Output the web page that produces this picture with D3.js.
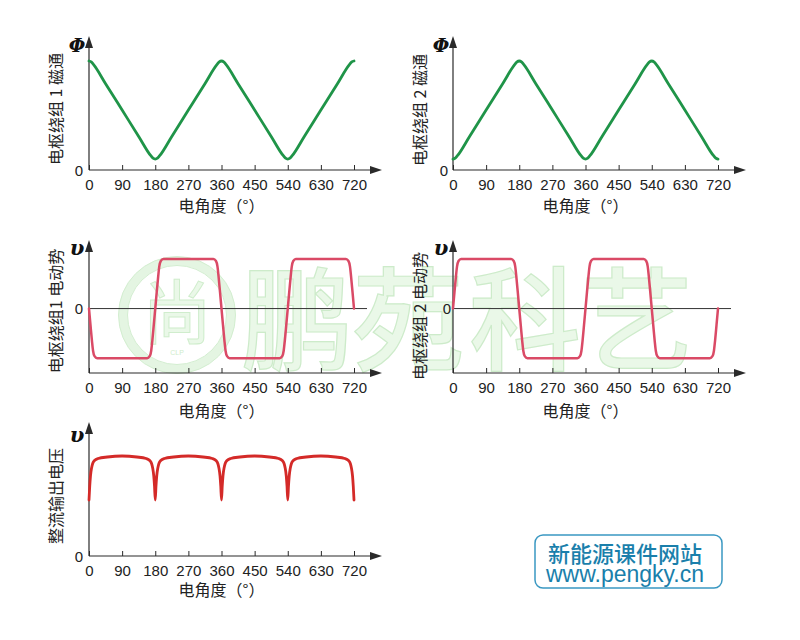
<!DOCTYPE html>
<html>
<head>
<meta charset="utf-8">
<script src="https://cdn.jsdelivr.net/npm/d3@7"></script>
<style>
  html, body { margin: 0; padding: 0; background: #fff; }
  svg { display: block; }
</style>
</head>
<body>
<svg id="chart" width="800" height="640"></svg>
<script>
// ---------------- data ----------------
const tickValues = [0, 90, 180, 270, 360, 450, 540, 630, 720];
const tickLabels = ["0", "90", "180", "270", "360", "450", "540", "630", "720"];
const xTitle = "电角度（°）";

// armature winding 1 flux
const flux1Angle = [0, 6, 12, 45, 90, 135, 168, 174, 180, 186, 192, 225, 270, 315, 348, 354, 360,
  366, 372, 405, 450, 495, 528, 534, 540, 546, 552, 585, 630, 675, 708, 714, 720];
const flux1Value = [1.0, 0.992, 0.969, 0.792, 0.550, 0.308, 0.131, 0.108, 0.10, 0.108, 0.131, 0.308, 0.550, 0.792, 0.969, 0.992, 1.0,
  0.992, 0.969, 0.792, 0.550, 0.308, 0.131, 0.108, 0.10, 0.108, 0.131, 0.308, 0.550, 0.792, 0.969, 0.992, 1.0];
// armature winding 2 flux
const flux2Angle = [0, 6, 12, 45, 90, 135, 168, 174, 180, 186, 192, 225, 270, 315, 348, 354, 360,
  366, 372, 405, 450, 495, 528, 534, 540, 546, 552, 585, 630, 675, 708, 714, 720];
const flux2Value = [0.10, 0.108, 0.131, 0.308, 0.550, 0.792, 0.969, 0.992, 1.0, 0.992, 0.969, 0.792, 0.550, 0.308, 0.131, 0.108, 0.10,
  0.108, 0.131, 0.308, 0.550, 0.792, 0.969, 0.992, 1.0, 0.992, 0.969, 0.792, 0.550, 0.308, 0.131, 0.108, 0.10];

// armature winding 1 EMF
const emf1Angle = [0, 4, 8, 11, 15, 22, 158, 165, 169, 172, 176, 180, 184, 188, 191, 195, 202,
  338, 345, 349, 352, 356, 360, 364, 368, 371, 375, 382, 518, 525, 529, 532, 536, 540,
  544, 548, 551, 555, 562, 698, 705, 709, 712, 716, 720];
const emf1Value = [0, -0.33, -0.65, -0.85, -0.96, -1, -1, -0.96, -0.85, -0.65, -0.33, 0, 0.33, 0.65, 0.85, 0.96, 1,
  1, 0.96, 0.85, 0.65, 0.33, 0, -0.33, -0.65, -0.85, -0.96, -1, -1, -0.96, -0.85, -0.65, -0.33, 0,
  0.33, 0.65, 0.85, 0.96, 1, 1, 0.96, 0.85, 0.65, 0.33, 0];
// armature winding 2 EMF
const emf2Angle = [0, 4, 8, 11, 15, 22, 158, 165, 169, 172, 176, 180, 184, 188, 191, 195, 202,
  338, 345, 349, 352, 356, 360, 364, 368, 371, 375, 382, 518, 525, 529, 532, 536, 540,
  544, 548, 551, 555, 562, 698, 705, 709, 712, 716, 720];
const emf2Value = [0, 0.33, 0.65, 0.85, 0.96, 1, 1, 0.96, 0.85, 0.65, 0.33, 0, -0.33, -0.65, -0.85, -0.96, -1,
  -1, -0.96, -0.85, -0.65, -0.33, 0, 0.33, 0.65, 0.85, 0.96, 1, 1, 0.96, 0.85, 0.65, 0.33, 0,
  -0.33, -0.65, -0.85, -0.96, -1, -1, -0.96, -0.85, -0.65, -0.33, 0];

// rectified output voltage
const rectAngle = [0, 2, 4, 7, 10, 15, 25, 50, 90, 130, 155, 165, 170, 173, 176, 178,
  180, 182, 184, 187, 190, 195, 205, 230, 270, 310, 335, 345, 350, 353, 356, 358,
  360, 362, 364, 367, 370, 375, 385, 410, 450, 490, 515, 525, 530, 533, 536, 538,
  540, 542, 544, 547, 550, 555, 565, 590, 630, 670, 695, 705, 710, 713, 716, 718, 720];
const rectValue = [0.56, 0.70, 0.80, 0.88, 0.925, 0.955, 0.975, 0.99, 1.0, 0.99, 0.975, 0.955, 0.925, 0.88, 0.80, 0.70,
  0.56, 0.70, 0.80, 0.88, 0.925, 0.955, 0.975, 0.99, 1.0, 0.99, 0.975, 0.955, 0.925, 0.88, 0.80, 0.70,
  0.56, 0.70, 0.80, 0.88, 0.925, 0.955, 0.975, 0.99, 1.0, 0.99, 0.975, 0.955, 0.925, 0.88, 0.80, 0.70,
  0.56, 0.70, 0.80, 0.88, 0.925, 0.955, 0.975, 0.99, 1.0, 0.99, 0.975, 0.955, 0.925, 0.88, 0.80, 0.70, 0.56];

const watermarkChars = ["鹏", "苑", "科", "艺"];

// ---------------- drawing ----------------
const svg = d3.select("#chart");
const FONT = "'Liberation Sans', Arial, 'Noto Sans CJK SC', sans-serif";
const CJK = "'Noto Sans CJK SC', 'Liberation Sans', sans-serif";
const AXIS = "#2a2a2a";

// watermark (behind everything)
const wm = svg.append("g").attr("class", "watermark");
wm.append("circle").attr("cx", 177).attr("cy", 315).attr("r", 54)
  .attr("fill", "none").attr("stroke", "#e4f5e2").attr("stroke-width", 9);
wm.append("circle").attr("cx", 177).attr("cy", 315).attr("r", 58.5)
  .attr("fill", "none").attr("stroke", "#d3eed0").attr("stroke-width", 1);
wm.append("circle").attr("cx", 177).attr("cy", 315).attr("r", 49.5)
  .attr("fill", "none").attr("stroke", "#d3eed0").attr("stroke-width", 1);
wm.append("text").attr("x", 177).attr("y", 308).attr("text-anchor", "middle")
  .attr("dominant-baseline", "central").attr("font-family", CJK).attr("font-size", 70)
  .attr("fill", "#eaf8e8").attr("stroke", "#d0edcd").attr("stroke-width", 1).text("尚");
wm.append("text").attr("x", 177).attr("y", 352).attr("text-anchor", "middle")
  .attr("dominant-baseline", "central").attr("font-family", FONT).attr("font-size", 7)
  .attr("fill", "#cfeccc").text("CLP");
const wmX = [297, 408, 525, 637];
watermarkChars.forEach((c, i) => {
  wm.append("text").attr("x", wmX[i]).attr("y", 313).attr("text-anchor", "middle")
    .attr("dominant-baseline", "central").attr("font-family", CJK).attr("font-size", 112)
    .attr("font-weight", 500)
    .attr("fill", "#eaf8e8").attr("stroke", "#cdebca").attr("stroke-width", 1.2)
    .text(c);
});

function panel(opt) {
  const g = svg.append("g");
  const x = d3.scaleLinear().domain([0, 720]).range([opt.left, opt.left + 265]);
  const y = d3.scaleLinear().domain(opt.yDomain).range(opt.yRange);
  const axisY = y(opt.yDomain[0]);
  const tipX = opt.left + 293;

  // x axis ticks (upward) with labels below
  const ax = d3.axisBottom(x).tickValues(tickValues)
    .tickFormat((d, i) => tickLabels[i]).tickSizeInner(-5).tickSizeOuter(0).tickPadding(9);
  const axg = g.append("g").attr("transform", `translate(0,${axisY})`).call(ax);
  axg.select(".domain").remove();
  axg.selectAll(".tick line").attr("stroke", AXIS).attr("stroke-width", 1);
  axg.selectAll(".tick text").attr("font-family", FONT).attr("font-size", 15).attr("fill", "#222");

  // axis lines + arrows
  g.append("line").attr("x1", opt.left).attr("x2", tipX - 8).attr("y1", axisY).attr("y2", axisY)
    .attr("stroke", AXIS).attr("stroke-width", 1.2);
  g.append("path").attr("d", `M${tipX},${axisY} L${tipX - 12},${axisY - 4} L${tipX - 12},${axisY + 4} Z`)
    .attr("fill", AXIS);
  g.append("line").attr("x1", opt.left).attr("x2", opt.left).attr("y1", axisY).attr("y2", opt.tipY + 8)
    .attr("stroke", AXIS).attr("stroke-width", 1.2);
  g.append("path").attr("d", `M${opt.left},${opt.tipY} L${opt.left - 4},${opt.tipY + 12} L${opt.left + 4},${opt.tipY + 12} Z`)
    .attr("fill", AXIS);

  // zero line for emf panels
  if (opt.zeroLine) {
    g.append("line").attr("x1", opt.left).attr("x2", opt.left + 278)
      .attr("y1", y(0)).attr("y2", y(0)).attr("stroke", "#333").attr("stroke-width", 1);
  }
  // "0" label on y
  g.append("text").attr("x", opt.left - opt.zeroGap).attr("y", y(0)).attr("text-anchor", "end")
    .attr("dominant-baseline", "central").attr("font-family", FONT).attr("font-size", 15)
    .attr("fill", "#222").text("0");

  // symbol
  g.append("text").attr("x", opt.left - 12).attr("y", opt.tipY + opt.symDy).attr("text-anchor", "middle")
    .attr("dominant-baseline", "central").attr("font-family", "'DejaVu Serif', 'Liberation Serif', serif")
    .attr("font-style", "italic").attr("font-weight", "bold").attr("font-size", opt.symSize)
    .attr("fill", "#111").text(opt.symbol);

  // y title (rotated)
  g.append("text").attr("transform", `translate(${opt.left - 34},${opt.titleY}) rotate(-90)`)
    .attr("text-anchor", "middle").attr("dominant-baseline", "central")
    .attr("font-family", CJK).attr("font-size", 16).attr("fill", "#222").text(opt.yTitle);

  // x title
  g.append("text").attr("x", (x(0) + x(720)) / 2).attr("y", axisY + opt.xTitleDy)
    .attr("text-anchor", "middle").attr("dominant-baseline", "central")
    .attr("font-family", CJK).attr("font-size", 16).attr("fill", "#222").text(xTitle);

  // curve
  const pts = opt.angle.map((a, i) => [a, opt.value[i]]);
  const line = d3.line().x(d => x(d[0])).y(d => y(d[1])).curve(d3.curveMonotoneX);
  g.append("path").datum(pts).attr("d", line).attr("fill", "none")
    .attr("stroke", opt.color).attr("stroke-width", opt.width)
    .attr("stroke-linejoin", "round").attr("stroke-linecap", "round");
}

panel({ left: 89, yDomain: [0, 1], yRange: [170, 61], tipY: 36, zeroGap: 6,
  symbol: "Φ", symSize: 19, symDy: 9, yTitle: "电枢绕组 1 磁通", titleY: 109, xTitleDy: 35,
  angle: flux1Angle, value: flux1Value, color: "#1f9448", width: 2.8 });
panel({ left: 453, yDomain: [0, 1], yRange: [170, 61], tipY: 36, zeroGap: 5,
  symbol: "Φ", symSize: 19, symDy: 9, yTitle: "电枢绕组 2 磁通", titleY: 110, xTitleDy: 35,
  angle: flux2Angle, value: flux2Value, color: "#1f9448", width: 2.8 });
panel({ left: 89, yDomain: [-1.3, 1], yRange: [373, 259], tipY: 240, zeroGap: 6, zeroLine: true,
  symbol: "υ", symSize: 21, symDy: 7, yTitle: "电枢绕组1 电动势", titleY: 311, xTitleDy: 37,
  angle: emf1Angle, value: emf1Value, color: "#da4a66", width: 2.5 });
panel({ left: 453, yDomain: [-1.3, 1], yRange: [373, 259], tipY: 240, zeroGap: 2, zeroLine: true,
  symbol: "υ", symSize: 21, symDy: 7, yTitle: "电枢绕组 2 电动势", titleY: 316, xTitleDy: 37,
  angle: emf2Angle, value: emf2Value, color: "#da4a66", width: 2.5 });
panel({ left: 89, yDomain: [0, 1], yRange: [556, 456], tipY: 422, zeroGap: 6,
  symbol: "υ", symSize: 21, symDy: 12, yTitle: "整流输出电压", titleY: 496, xTitleDy: 33,
  angle: rectAngle, value: rectValue, color: "#d42a28", width: 2.8 });

// website badge
const badge = svg.append("g");
badge.append("rect").attr("x", 535).attr("y", 535).attr("width", 187).attr("height", 53)
  .attr("rx", 8).attr("fill", "#fff").attr("stroke", "#3a98c2").attr("stroke-width", 1.5);
badge.append("text").attr("x", 625).attr("y", 552).attr("text-anchor", "middle")
  .attr("dominant-baseline", "central").attr("font-family", CJK).attr("font-size", 22)
  .attr("font-weight", 500).attr("fill", "#1a7fab").text("新能源课件网站");
badge.append("text").attr("x", 625).attr("y", 574).attr("text-anchor", "middle")
  .attr("dominant-baseline", "central").attr("font-family", FONT).attr("font-size", 23)
  .attr("fill", "#1a7fab").text("www.pengky.cn");
</script>
</body>
</html>
